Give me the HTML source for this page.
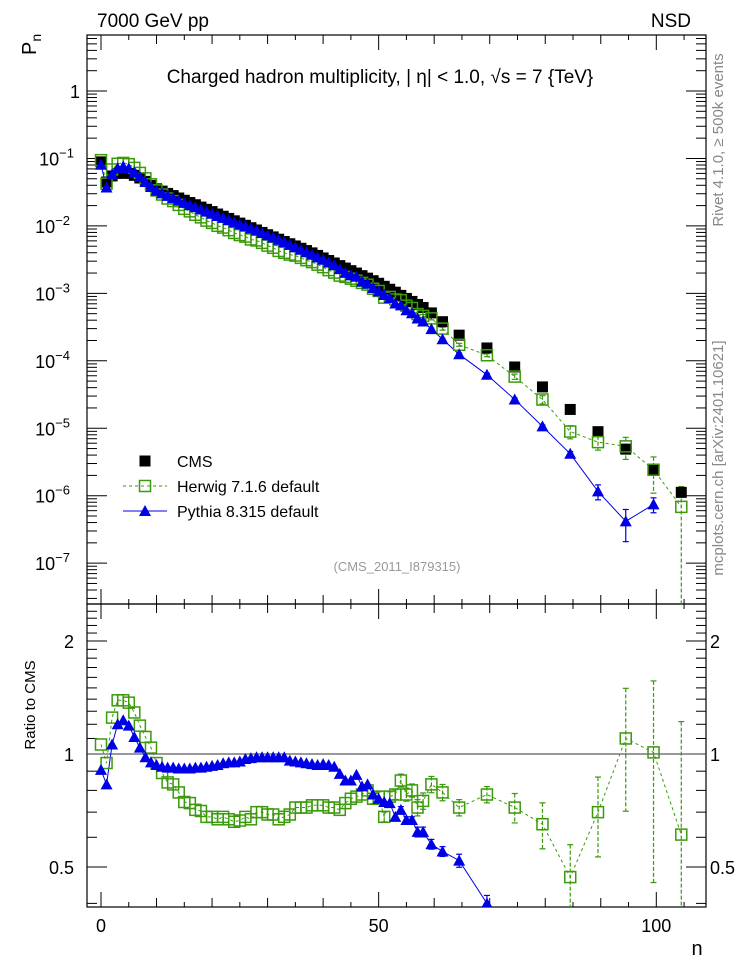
<!DOCTYPE html>
<html><head><meta charset="utf-8"><style>
html,body{margin:0;padding:0;background:#fff;overflow:hidden;width:746px;height:972px;}
svg{display:block;font-family:"Liberation Sans","DejaVu Sans",sans-serif;}
</style></head><body>
<svg id="chart" width="746" height="972" viewBox="0 0 746 972" xmlns="http://www.w3.org/2000/svg">
<defs>
<clipPath id="cm"><rect x="87" y="35" width="619" height="569"/></clipPath>
<clipPath id="cr"><rect x="87" y="604" width="619" height="303"/></clipPath>
</defs>
<text x="97" y="27" font-size="19">7000 GeV pp</text>
<text x="691" y="27" font-size="19" text-anchor="end">NSD</text>
<text x="380" y="83" font-size="19" text-anchor="middle">Charged hadron multiplicity, |  η| &lt; 1.0,  √s = 7 {TeV}</text>
<text transform="translate(36,55) rotate(-90)" font-size="20">P<tspan font-size="14" dy="5">n</tspan></text>
<text transform="translate(35,705) rotate(-90)" font-size="15" text-anchor="middle">Ratio to CMS</text>
<text x="397" y="571" font-size="13" fill="#999" text-anchor="middle">(CMS_2011_I879315)</text>
<text transform="translate(723,140) rotate(-90)" font-size="15" fill="#888" text-anchor="middle">Rivet 4.1.0, ≥ 500k events</text>
<text transform="translate(723,458) rotate(-90)" font-size="15" fill="#888" text-anchor="middle">mcplots.cern.ch [arXiv:2401.10621]</text>
<text x="697" y="955" font-size="20" text-anchor="middle">n</text>
<g id="axes"></g>
<g id="mainmarks" clip-path="url(#cm)"></g>
<g id="ratiomarks" clip-path="url(#cr)"></g>
<g id="legend"></g>
</svg>
<script>
const nValues=[0,1,2,3,4,5,6,7,8,9,10,11,12,13,14,15,16,17,18,19,20,21,22,23,24,25,26,27,28,29,30,31,32,33,34,35,36,37,38,39,40,41,42,43,44,45,46,47,48,49,50,51,52,53,54,55,56,57,58,59.5,61.5,64.5,69.5,74.5,79.5,84.5,89.5,94.5,99.5,104.5];
const cmsValues=[0.089,0.0447,0.055,0.060,0.0617,0.060,0.0562,0.0513,0.0457,0.0398,0.0355,0.0328,0.0303,0.0281,0.0259,0.0240,0.0222,0.0206,0.0190,0.0176,0.0163,0.0150,0.0139,0.0129,0.0119,0.0110,0.0102,0.0094,0.0087,0.0080,0.0074,0.00687,0.00635,0.00587,0.00544,0.00504,0.00466,0.00431,0.00398,0.00365,0.00335,0.00307,0.00282,0.00258,0.00237,0.00217,0.00200,0.00183,0.00168,0.00154,0.00141,0.00127,0.00115,0.00104,0.000933,0.000841,0.000759,0.000684,0.000617,0.000513,0.000380,0.000240,0.000155,8.1e-5,4.1e-5,1.9e-5,8.9e-6,4.9e-6,2.4e-6,1.12e-6];
const herwigRatio=[1.06,0.946,1.25,1.39,1.39,1.37,1.29,1.19,1.11,1.04,0.946,0.89,0.84,0.83,0.79,0.745,0.74,0.71,0.705,0.68,0.68,0.67,0.68,0.67,0.66,0.665,0.68,0.67,0.70,0.70,0.69,0.69,0.67,0.68,0.69,0.72,0.72,0.72,0.73,0.73,0.73,0.72,0.72,0.71,0.74,0.76,0.77,0.78,0.80,0.76,0.77,0.68,0.77,0.78,0.85,0.78,0.80,0.72,0.75,0.83,0.79,0.72,0.78,0.72,0.65,0.47,0.70,1.10,1.01,0.61];
const herwigRelErr=[0,0,0,0,0,0,0,0,0,0,0,0,0,0,0,0,0,0,0,0,0,0,0,0,0,0,0,0,0,0,0,0,0,0,0,0,0,0,0,0,0,0,0,0,0,0,0,0,0,0.03,0.03,0.03,0.03,0.03,0.04,0.04,0.04,0.05,0.05,0.05,0.05,0.05,0.05,0.09,0.14,0.22,0.24,0.36,0.55,1.0];
const pythiaRatio=[0.907,0.83,1.06,1.20,1.23,1.19,1.11,1.04,0.98,0.95,0.935,0.925,0.92,0.92,0.915,0.915,0.915,0.92,0.92,0.925,0.93,0.935,0.945,0.95,0.95,0.955,0.97,0.975,0.98,0.98,0.98,0.98,0.98,0.98,0.96,0.955,0.95,0.945,0.94,0.935,0.94,0.935,0.925,0.885,0.85,0.85,0.88,0.82,0.83,0.78,0.76,0.745,0.74,0.68,0.71,0.667,0.667,0.62,0.62,0.575,0.55,0.52,0.40,0.33,0.26,0.22,0.13,0.085,0.31,null];
const pythiaRelErr=[0,0,0,0,0,0,0,0,0,0,0,0,0,0,0,0,0,0,0,0,0,0,0,0,0,0,0,0,0,0,0,0,0,0,0,0,0,0,0,0,0,0,0,0,0,0,0,0,0,0,0,0,0,0,0.02,0.02,0.02,0.03,0.03,0.03,0.03,0.04,0.05,0.05,0.05,0.08,0.25,0.5,0.25,0];
const xTickLabels=["0","50","100"];
const mainYLabelExp=[0,-1,-2,-3,-4,-5,-6,-7];
const ratioYLabels=["0.5","1","2"];

const NS="http://www.w3.org/2000/svg";
const X0=87,X1=706,YT=35,YM=604,YB=907;
const xs=n=>101+n*5.553;
const ys=p=>91-67.45*Math.log10(p);
const yr=r=>754-375.4*Math.log10(r);
function mk(tag,attrs,parent){const e=document.createElementNS(NS,tag);for(const k in attrs)e.setAttribute(k,attrs[k]);parent.appendChild(e);return e;}
const axes=document.getElementById('axes');
const mm=document.getElementById('mainmarks');
const rm=document.getElementById('ratiomarks');
const lg=document.getElementById('legend');

let f1=mk('rect',{x:X0,y:YT,width:X1-X0,height:YM-YT,fill:'none',stroke:'#000','stroke-width':1.2},axes);


let f2=mk('rect',{x:X0,y:YM,width:X1-X0,height:YB-YM,fill:'none',stroke:'#000','stroke-width':1.2},axes);



for(let v=0;v<=105;v+=5){
  const x=xs(v);const L=(v%50===0)?15:(v%10===0?9:5);
  [[YT,1],[YM,-1],[YM,1],[YB,-1]].forEach(([y,d])=>{
    let t=mk('line',{x1:x,x2:x,y1:y,y2:y+d*L,stroke:'#000','stroke-width':1},axes);
    
    
  });
}
xTickLabels.forEach(s=>{
  let t=mk('text',{x:xs(+s),y:932,'font-size':18,'text-anchor':'middle'},axes);t.textContent=s;
  
  
});
for(let e=-8;e<=0;e++){
  for(let m=1;m<=9;m++){
    const y=ys(m*Math.pow(10,e));if(y<YT||y>YM)continue;
    const L=m===1?20:10;
    [[X0,1],[X1,-1]].forEach(([x,d])=>{
      let t=mk('line',{x1:x,x2:x+d*L,y1:y,y2:y,stroke:'#000','stroke-width':1},axes);
      
      
    });
  }
}
mainYLabelExp.forEach(e=>{
  const y=ys(Math.pow(10,e));
  let t=mk('text',{x:e===0?80:(e===-1?74:70),y:y+7,'font-size':18,'text-anchor':'end'},axes);
  if(e===0)t.textContent='1';
  else{t.textContent='10';let s=mk('tspan',{dy:-8,'font-size':13},t);s.textContent='−'+(-e);}
  
  
});
[0.4,0.5,0.6,0.7,0.8,0.9,1,1.1,1.2,1.3,1.4,1.5,1.6,1.7,1.8,1.9,2,2.1,2.2,2.3,2.4].forEach(r=>{
  const y=yr(r);if(y<YM||y>YB)return;
  const L=(r===0.5||r===1||r===2)?20:10;
  [[X0,1],[X1,-1]].forEach(([x,d])=>{
    let t=mk('line',{x1:x,x2:x+d*L,y1:y,y2:y,stroke:'#000','stroke-width':1},axes);
    
    
  });
});
ratioYLabels.forEach(s=>{
  const y=yr(+s);
  [[74,'end'],[710,'start']].forEach(([x,a])=>{
    let t=mk('text',{x:x,y:y+7,'font-size':18,'text-anchor':a},axes);t.textContent=s;
    
    
  });
});
let ref=mk('line',{x1:X0,x2:X1,y1:yr(1),y2:yr(1),stroke:'#333','stroke-width':1},axes);



const GREEN='#3a9a0a',BLUE='#0000e6';
function sq(g,x,y,filled,name){
  let r=mk('rect',{x:x-5.5,y:y-5.5,width:11,height:11,fill:filled?'#000':'none',stroke:filled?'#000':GREEN,'stroke-width':filled?0:1.5},g);
  
  
}
function tri(g,x,y,name){
  let p=mk('polygon',{points:`${x},${y-6} ${x-6},${y+5} ${x+6},${y+5}`,fill:BLUE},g);
  
  
}
function errbar(g,x,y1,y2,color,dash,name){
  let l=mk('line',{x1:x,x2:x,y1:y1,y2:y2,stroke:color,'stroke-width':1.2},g);
  if(dash)l.setAttribute('stroke-dasharray','4,2');
  
  
  [y1,y2].forEach(y=>mk('line',{x1:x-3,x2:x+3,y1:y,y2:y,stroke:color,'stroke-width':1.2},g));
}
function series(g,yf,vals,rel,color,dash,name){
  let pts=[];
  nValues.forEach((n,i)=>{const v=vals(i);if(v==null||v<=0)return;pts.push([xs(n),yf(v),i]);});
  let pl=mk('polyline',{points:pts.map(p=>p[0]+','+p[1]).join(' '),fill:'none',stroke:color,'stroke-width':1},g);
  if(dash)pl.setAttribute('stroke-dasharray','3,3');
  
  
  pts.forEach(([x,y,i])=>{const e=rel[i];if(e>0){const v=vals(i);errbar(g,x,yf(v*(1+e)),yf(Math.max(v*(1-e),1e-12)),color,dash,name+'-error-bar');}});
  return pts;
}
let hp=series(mm,ys,i=>cmsValues[i]*herwigRatio[i],herwigRelErr,GREEN,true,'herwig');
let pp=series(mm,ys,i=>pythiaRatio[i]==null?null:cmsValues[i]*pythiaRatio[i],pythiaRelErr,BLUE,false,'pythia');
nValues.forEach((n,i)=>sq(mm,xs(n),ys(cmsValues[i]),true,'cms-point'));
hp.forEach(p=>sq(mm,p[0],p[1],false,'herwig-point'));
pp.forEach(p=>tri(mm,p[0],p[1],'pythia-point'));
let hr=series(rm,yr,i=>herwigRatio[i],herwigRelErr,GREEN,true,'herwig-ratio');
let pr=series(rm,yr,i=>pythiaRatio[i],pythiaRelErr,BLUE,false,'pythia-ratio');
hr.forEach(p=>sq(rm,p[0],p[1],false,'herwig-ratio-point'));
pr.forEach(p=>tri(rm,p[0],p[1],'pythia-ratio-point'));
sq(lg,145,461,true,'legend-cms-marker');
let t1=mk('text',{x:177,y:467,'font-size':16},lg);t1.textContent='CMS';


let l2=mk('line',{x1:123,x2:167,y1:486,y2:486,stroke:GREEN,'stroke-dasharray':'3,3'},lg);


sq(lg,145,486,false,'legend-herwig-marker');
let t2=mk('text',{x:177,y:492,'font-size':16},lg);t2.textContent='Herwig 7.1.6 default';


let l3=mk('line',{x1:123,x2:167,y1:511,y2:511,stroke:BLUE},lg);


tri(lg,145,511,'legend-pythia-marker');
let t3=mk('text',{x:177,y:517,'font-size':16},lg);t3.textContent='Pythia 8.315 default';


</script>
</body></html>
